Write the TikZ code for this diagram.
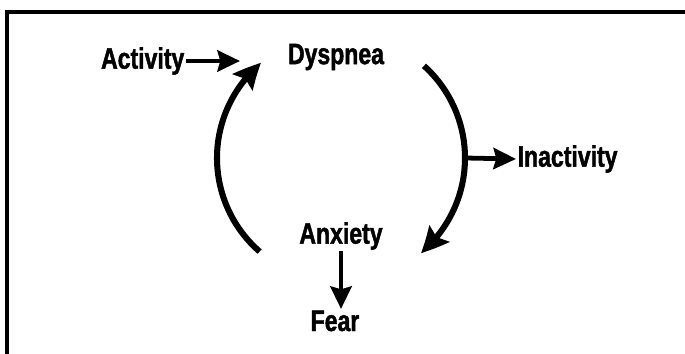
\documentclass[tikz,border=0pt]{standalone}
\usepackage{fontspec}
\setmainfont[FakeStretch=0.78, BoldFeatures={FakeBold=1.5}]{Liberation Sans}
\usetikzlibrary{arrows.meta, bending}

\begin{document}
\begin{tikzpicture}[
        x=0.025cm, y=0.025cm,
        word/.style = {inner sep=1pt, font=\fontsize{21}{24}\selectfont\bfseries},
        cyclearrow/.style = {line width=4.3pt, -{Stealth[length=19pt, width=18pt, inset=3pt, bend]}},
        linkarrow/.style = {line width=3.4pt, -{Stealth[length=16pt, width=15pt, inset=2pt]}},
        frame/.style = {line width=2.8pt},
    ]
        \useasboundingbox (0,0) rectangle (685,354);
        \draw[frame] (7,-10) |- (695,342);

        \node[word, anchor=east] (act) at (186,293) {Activity};
        \node[word] (dysp) at (336,297) {Dyspnea};
        \node[word] (anx) at (341,118) {Anxiety};
        \node[word] (fear) at (335,33) {Fear};
        \node[word, anchor=west] (inact) at (516,195) {Inactivity};

        \coordinate (hub) at (341,196);
        \coordinate (actend) at (240,293);
        \path (hub) ++(229:124) coordinate (lstart);
        \path (hub) ++(48:124) coordinate (rstart);
        \path (hub) ++(0:124) coordinate (rside);

        \draw[cyclearrow] (lstart) arc[start angle=229, end angle=130, radius=124];
        \draw[cyclearrow] (rstart) arc[start angle=48, end angle=-50, radius=124];
        \draw[linkarrow] (act.east) -- (actend);
        \draw[linkarrow] (rside) -- (inact.west);
        \draw[linkarrow] (anx.south) -- (anx.south |- fear.north);
    \end{tikzpicture}
\end{document}
